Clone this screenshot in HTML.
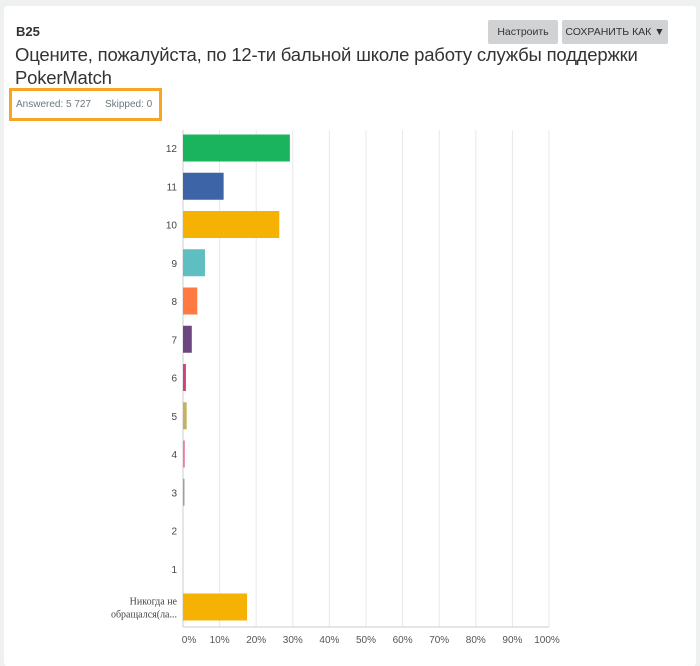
<!DOCTYPE html>
<html><head><meta charset="utf-8"><style>
body{margin:0;width:700px;height:654px;background:#eff1f1;font-family:"Liberation Sans",sans-serif;overflow:hidden;position:relative}
.card{position:absolute;left:4px;top:6px;width:692px;height:660px;background:#fff;border-radius:3px}
.q{position:absolute;left:12px;top:18px;font-size:13px;font-weight:bold;color:#333}
.btn{position:absolute;top:14px;height:24px;background:#d0d2d3;color:#333;font-size:10.5px;line-height:24px;text-align:center;border-radius:2px;white-space:nowrap}
.title{position:absolute;left:11px;top:37px;width:670px;font-size:18.5px;line-height:23px;color:#333;letter-spacing:-0.2px}
.hl{position:absolute;left:5px;top:82px;width:143px;height:27px;border:3px solid #f6a623;font-size:10px;color:#6b787f;line-height:27px;padding-left:4px;box-sizing:content-box}
svg{position:absolute;left:0;top:0}
</style></head><body>
<div class="card">
<div class="q">B25</div>
<div class="btn" style="left:484px;width:70px">Настроить</div>
<div class="btn" style="left:558px;width:106px">СОХРАНИТЬ КАК ▼</div>
<div class="title">Оцените, пожалуйста, по 12-ти бальной школе работу службы поддержки<br>PokerMatch</div>
<div class="hl">Answered: 5 727&nbsp;&nbsp;&nbsp;&nbsp;&nbsp;Skipped: 0</div>
</div>
<svg id="chart" width="700" height="654"></svg>
<script>
const categories=["12","11","10","9","8","7","6","5","4","3","2","1","Никогда не|обращался(ла..."];
const values=[29.2,11.1,26.3,6.0,3.9,2.4,0.8,1.0,0.5,0.4,0,0,17.5];
const colors=["#1bb45e","#3d64a7","#f5b104","#5fbfc0","#ff7a42","#6b4680","#d3407f","#c8b05e","#ec7f9c","#9aa0a6","#aaa","#aaa","#f5b104"];
const ticks=[0,10,20,30,40,50,60,70,80,90,100];
const NS="http://www.w3.org/2000/svg";
const svg=document.getElementById('chart');
const x0=183,x1=549,plotTop=130,plotBottom=627,rowTop=148,rowStep=38.25,barH=27;
const xs=v=>x0+(x1-x0)*v/100;
const ys=i=>rowTop+i*rowStep;
function mk(t,a){const e=document.createElementNS(NS,t);for(const k in a)e.setAttribute(k,a[k]);svg.appendChild(e);return e;}
ticks.forEach(t=>{
 const g=mk('line',{x1:xs(t),x2:xs(t),y1:plotTop,y2:plotBottom,stroke:t===0?'#ccc':'#e8e8e8','stroke-width':1});
 
 
 const l=mk('text',{x:xs(t)+(t===0?6:t===100?-2:0),y:643,'font-size':10,fill:'#555','text-anchor':'middle','font-family':'Liberation Sans, sans-serif'});
 l.textContent=t+'%';
 
 
});
const ax=mk('line',{x1:x0,x2:x1,y1:plotBottom,y2:plotBottom,stroke:'#ccc'});


categories.forEach((c,i)=>{
 const y=ys(i);
 const parts=c.split('|');
 parts.forEach((p,j)=>{
  const t=mk('text',{x:177,y:y+4+(parts.length>1?(j-0.5)*13:0),'font-size':10,fill:'#444','text-anchor':'end','font-family':parts.length>1?'Liberation Serif, serif':'Liberation Sans, sans-serif'});
  t.textContent=p;
  
  
 });
 if(values[i]>0){
  const r=mk('rect',{x:x0,y:y-barH/2,width:xs(values[i])-x0,height:barH,fill:colors[i]});
  
  
 }
});
</script>
</body></html>
